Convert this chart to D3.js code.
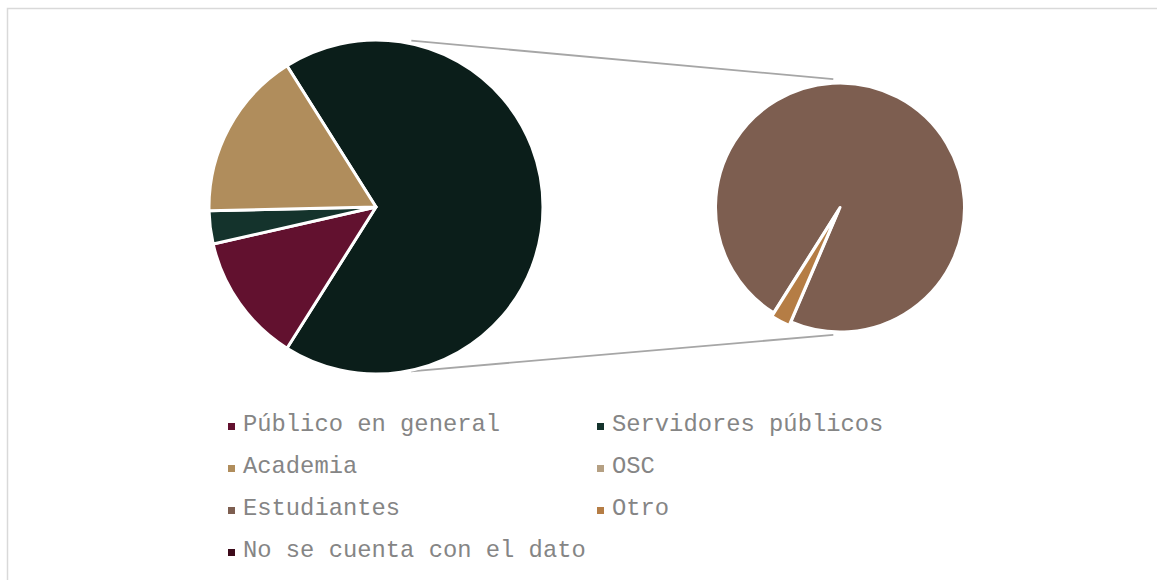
<!DOCTYPE html>
<html>
<head>
<meta charset="utf-8">
<script src="https://cdn.jsdelivr.net/npm/d3@7"></script>
<style>
  body { margin: 0; background: #fff; }
</style>
</head>
<body>
<div id="chart"></div>
<script>
// data (percent of total)
var categories = ['Público en general', 'Servidores públicos', 'Academia', 'OSC', 'Estudiantes', 'Otro', 'No se cuenta con el dato'];
var values = [12.5, 3.2, 16.4, 0, 66.2, 1.7, 0];
var colors = ['#62112f', '#14332c', '#b08d5c', '#b5a083', '#7d5e50', '#b57d45', '#3d0a1a'];
var secondGroup = ['Estudiantes', 'Otro'];
var otherColor = '#0b1e1a';

var width = 1157, height = 580;

var svg = d3.select('#chart').append('svg')
    .attr('width', width)
    .attr('height', height)

svg.append('rect')
    .attr('x', 7.5).attr('y', 8.5)
    .attr('width', width + 10).attr('height', height + 10)
    .style('fill', 'none')
    .style('stroke', '#d9d9d9')
    .style('stroke-width', 1.5)

var rows = categories.map(function(c, i) { return {name: c, value: values[i], color: colors[i]}; });
var firstRows = rows.filter(function(d) { return secondGroup.indexOf(d.name) < 0 && d.value > 0; });
var secondRows = rows.filter(function(d) { return secondGroup.indexOf(d.name) >= 0 && d.value > 0; });
var otherTotal = d3.sum(secondRows, function(d) { return d.value; });
var total = d3.sum(rows, function(d) { return d.value; });

var deg = Math.PI / 180;

// main pie: the "other" slice is centred on 3 o'clock
var main = {cx: 376, cy: 207, r: 167};
var mainRows = [{name: 'Otro (agregado)', value: otherTotal, color: otherColor}].concat(firstRows);
var otherSpan = otherTotal / total * 360;
var mainStart = (90 - otherSpan / 2) * deg;
var mainPie = d3.pie().sort(null).value(function(d) { return d.value; })
    .startAngle(mainStart).endAngle(mainStart + 2 * Math.PI);
var mainArc = d3.arc().innerRadius(0).outerRadius(main.r);

// second pie
var sec = {cx: 840, cy: 207.5, r: 124.5};
var secStart = (90 + otherSpan / 2) * deg;
var secPie = d3.pie().sort(null).value(function(d) { return d.value; })
    .startAngle(secStart).endAngle(secStart + 2 * Math.PI);
var secArc = d3.arc().innerRadius(0).outerRadius(sec.r);

// connector lines
function pt(c, r, a) { return [c.cx + r * Math.sin(a * deg), c.cy - r * Math.cos(a * deg)]; }
var links = [[pt(main, main.r + 3, 12), pt(sec, sec.r + 4, -3)],
             [pt(main, main.r + 1, 168), pt(sec, sec.r + 3, 183)]];
svg.selectAll('line.link')
    .data(links)
    .enter().append('line')
    .attr('class', 'link')
    .attr('x1', function(d) { return d[0][0]; })
    .attr('y1', function(d) { return d[0][1]; })
    .attr('x2', function(d) { return d[1][0]; })
    .attr('y2', function(d) { return d[1][1]; })
    .style('stroke', '#a6a6a6')
    .style('stroke-width', 1.8)

var g1 = svg.append('g').attr('transform', 'translate(' + main.cx + ',' + main.cy + ')');
g1.selectAll('path')
    .data(mainPie(mainRows))
    .enter().append('path')
    .attr('d', mainArc)
    .style('fill', function(d) { return d.data.color; })
    .style('stroke', '#fff')
    .style('stroke-width', 3)
    .style('stroke-linejoin', 'round')

var g2 = svg.append('g').attr('transform', 'translate(' + sec.cx + ',' + sec.cy + ')');
g2.selectAll('path')
    .data(secPie(secondRows))
    .enter().append('path')
    .attr('d', secArc)
    .attr('transform', function(d) {
      if (d.data.name != 'Otro') return null;
      var c = d3.arc().innerRadius(0).outerRadius(4).centroid(d);
      return 'translate(' + c[0] * 2 + ',' + c[1] * 2 + ')';
    })
    .style('fill', function(d) { return d.data.color; })
    .style('stroke', '#fff')
    .style('stroke-width', 3)
    .style('stroke-linejoin', 'round')

// legend, two columns
var legX = [228, 597], legY = 431, legStep = 42;
var leg = svg.selectAll('g.leg')
    .data(rows)
    .enter().append('g')
    .attr('class', 'leg')
    .attr('transform', function(d, i) {
      return 'translate(' + legX[i % 2] + ',' + (legY + Math.floor(i / 2) * legStep) + ')';
    })
leg.append('rect')
    .attr('x', 0).attr('y', -8)
    .attr('width', 7).attr('height', 7)
    .style('fill', function(d) { return d.color; })
leg.append('text')
    .attr('x', 15)
    .attr('y', 0)
    .style('font-family', '"Liberation Mono", "Courier New", monospace')
    .style('font-size', '23.8px')
    .style('fill', '#858585')
    .text(function(d) { return d.name; })
</script>
</body>
</html>
